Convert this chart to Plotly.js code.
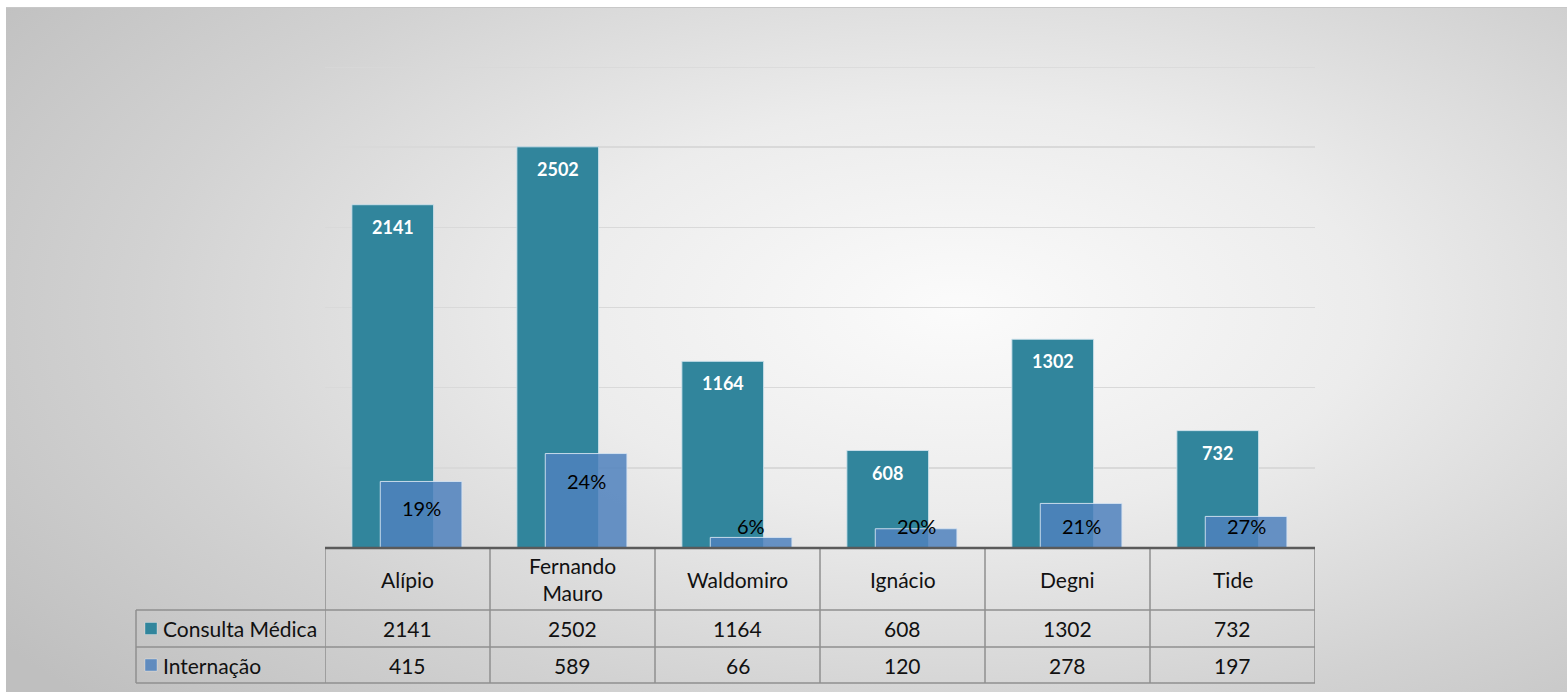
<!DOCTYPE html>
<html>
<head>
<meta charset="utf-8">
<script src="https://cdn.plot.ly/plotly-3.0.1.min.js"></script>
<style>
  html, body { margin:0; padding:0; background:#ffffff; }
  #chart {
    position:absolute; left:6px; top:7px; width:1561px; height:685px;
    background: radial-gradient(ellipse 75% 85% at 61% 44%, #fbfbfb 0%, #ececec 35%, #d2d2d2 70%, #bfbfbf 100%);
    border-top:1px solid #c8c8c8;
  }
</style>
</head>
<body>
<div id="chart"></div>
<script>
// ---- data ----
const categories = ['Alípio', 'Fernando Mauro', 'Waldomiro', 'Ignácio', 'Degni', 'Tide'];
const categoryLabels = ['Alípio', 'Fernando<br>Mauro', 'Waldomiro', 'Ignácio', 'Degni', 'Tide'];
const consulta = [2141, 2502, 1164, 608, 1302, 732];
const internacao = [415, 589, 66, 120, 278, 197];
const seriesNames = ['Consulta Médica', 'Internação'];

// ---- styling ----
const FONT = 'Lato, "Open Sans", sans-serif';
const C_TEAL = '#31859C';
const C_BLUE = 'rgba(79,129,189,0.85)';
const BAR_W = 0.495;
const OFF_C = -0.337;
const OFF_I = -0.165;
const Y_MAX = 3000;

// page pixel -> paper conversion (plot area: x 325..1315, y 66..547 on page)
const px = X => (X - 325) / 990;
const py = Y => (547 - Y) / 481;

const n = categories.length;
const traces = [
  {
    type:'bar', name:seriesNames[0], x:categories, y:consulta,
    width: BAR_W, offset: OFF_C,
    marker:{color:C_TEAL, line:{color:'rgba(205,225,235,0.9)', width:1}},
    hoverinfo:'x+y', showlegend:false
  },
  {
    type:'bar', name:seriesNames[1], x:categories, y:internacao,
    width: BAR_W, offset: OFF_I,
    marker:{color:C_BLUE, line:{color:'rgba(215,228,242,0.9)', width:1}},
    hoverinfo:'x+y', showlegend:false
  }
];

const annotations = [];
const shapes = [];

// top gridline (range edge)
shapes.push({type:'line', xref:'paper', yref:'y', x0:0, x1:1, y0:Y_MAX, y1:Y_MAX,
  line:{color:'#d9d9d9', width:1.5}, layer:'below'});

// data labels
for (let i = 0; i < n; i++) {
  annotations.push({
    x: i + OFF_C + BAR_W/2, y: consulta[i], xref:'x', yref:'y',
    yshift:-22, yanchor:'middle', showarrow:false,
    text: String(consulta[i]),
    font:{family:FONT, size:18, color:'#ffffff', weight:'bold'}
  });
  const pct = Math.round(internacao[i] / consulta[i] * 100) + '%';
  annotations.push({
    x: i + OFF_I + BAR_W/2, y: Math.max(internacao[i] - 168, 137), xref:'x', yref:'y',
    yanchor:'middle', showarrow:false,
    text: pct,
    font:{family:FONT, size:20, color:'#000000'}
  });
}

// data table
const GRID = '#8f8f8f';
const yHead = 547, yR1 = 609, yR2 = 646, yR3 = 682;
for (let i = 0; i <= n; i++) {
  shapes.push({type:'line', xref:'x', yref:'paper', x0:i-0.5, x1:i-0.5, y0:py(yHead), y1:py(yR3),
    line:{color:GRID, width:1.5}});
}
shapes.push({type:'line', xref:'paper', yref:'paper', x0:px(136), x1:px(136), y0:py(yR1), y1:py(yR3),
  line:{color:GRID, width:1.5}});
[yR1, yR2, yR3].forEach(Y => {
  shapes.push({type:'line', xref:'paper', yref:'paper', x0:px(136), x1:1, y0:py(Y), y1:py(Y),
    line:{color:GRID, width:1.5}});
});
shapes.push({type:'line', xref:'paper', yref:'paper', x0:0, x1:1, y0:0, y1:0,
  line:{color:'#5a5a5a', width:2.5}});

const TF = {family:FONT, size:21, color:'#111111'};
for (let i = 0; i < n; i++) {
  annotations.push({x:i, xref:'x', yref:'paper', y:py((yHead+yR1)/2), yanchor:'middle',
    showarrow:false, text:categoryLabels[i], font:TF});
  annotations.push({x:i, xref:'x', yref:'paper', y:py((yR1+yR2)/2), yanchor:'middle',
    showarrow:false, text:String(consulta[i]), font:TF});
  annotations.push({x:i, xref:'x', yref:'paper', y:py((yR2+yR3)/2), yanchor:'middle',
    showarrow:false, text:String(internacao[i]), font:TF});
}
const keyColors = [C_TEAL, 'rgba(79,129,189,0.85)'];
[[yR1, yR2], [yR2, yR3]].forEach((r, k) => {
  const mid = (r[0] + r[1]) / 2;
  shapes.push({type:'rect', xref:'paper', yref:'paper', x0:px(145), x1:px(157), y0:py(mid+6), y1:py(mid-6),
    fillcolor:keyColors[k], line:{color:'rgba(255,255,255,0.6)', width:0.5}});
  annotations.push({x:px(161), xref:'paper', yref:'paper', y:py(mid), xanchor:'left', yanchor:'middle',
    showarrow:false, text:seriesNames[k], font:TF});
});

const layout = {
  width:1561, height:685,
  margin:{l:319, r:252, t:59, b:145, pad:0},
  paper_bgcolor:'rgba(0,0,0,0)', plot_bgcolor:'rgba(0,0,0,0)',
  barmode:'overlay',
  showlegend:false,
  xaxis:{type:'category', showticklabels:false, ticks:'', showgrid:false, zeroline:false,
    showline:false, range:[-0.5, 5.5], fixedrange:true},
  yaxis:{range:[0, Y_MAX], dtick:500, showticklabels:false, ticks:'', showgrid:true,
    gridcolor:'#d9d9d9', gridwidth:1.5, zeroline:false, showline:false, fixedrange:true},
  annotations: annotations,
  shapes: shapes,
  font:{family:FONT}
};

Plotly.newPlot('chart', traces, layout, {displayModeBar:false, staticPlot:true});
</script>
</body>
</html>
